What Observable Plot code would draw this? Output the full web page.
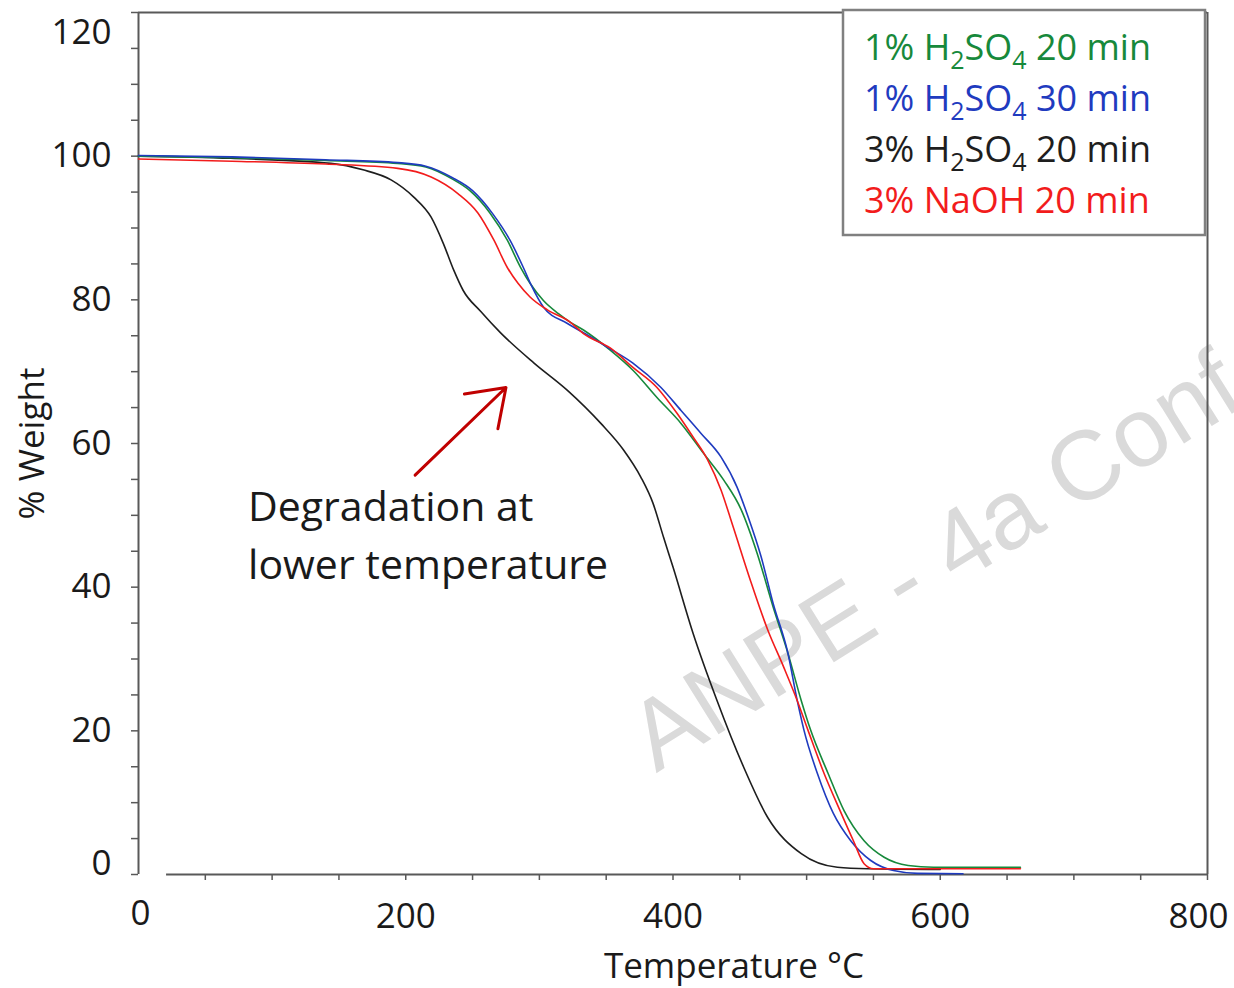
<!DOCTYPE html>
<html>
<head>
<meta charset="utf-8">
<script src="https://cdn.jsdelivr.net/npm/d3@7"></script>
<script src="https://cdn.jsdelivr.net/npm/@observablehq/plot@0.6"></script>
<style>
  html, body { margin: 0; padding: 0; background: #fff; overflow: hidden; }
  #chart { position: relative; width: 1234px; height: 988px; }
</style>
</head>
<body>
<div id="chart"></div>
<script>
// TGA curves: [temperature °C, % weight]
const acid1pct20 = [[0,100],[70,99.8],[140,99.4],[194,99.0],[215,98.5],[235,96.8],[248,95.2],[263,92.1],[276,88.3],[286,84.5],[293,82.3],[303,79.9],[314,78.1],[323,76.9],[333,75.8],[353,73.0],[370,70.2],[388,66.4],[406,62.8],[423,58.6],[438,54.9],[451,50.8],[463,44.7],[475,37.2],[486,30.8],[496,24.2],[503,20.1],[516,14.1],[528,8.9],[543,4.7],[558,2.4],[576,1.25],[595,1.0],[660,1.0]];
const acid1pct30 = [[0,100.1],[70,99.9],[140,99.5],[194,99.1],[215,98.6],[235,97.0],[250,95.2],[265,92.0],[278,88.3],[288,84.5],[294,82.0],[303,79.0],[321,76.7],[335,75.2],[351,73.4],[370,71.2],[391,67.8],[406,64.6],[421,61.4],[436,58.1],[448,53.9],[456,49.9],[466,44.2],[475,37.7],[486,30.8],[493,24.2],[498,20.1],[508,14.1],[520,8.5],[533,4.7],[548,1.95],[565,0.55],[583,0.15],[617,0.1]];
const acid3pct20 = [[0,100],[69,99.7],[144,99.0],[168,98.1],[189,96.7],[206,94.3],[219,91.5],[228,87.9],[236,84.1],[243,81.3],[256,78.4],[271,75.4],[296,71.2],[321,67.4],[346,62.8],[363,59.1],[376,55.3],[385,51.7],[393,46.9],[400,42.8],[415,33.6],[433,24.2],[453,14.9],[471,7.9],[496,2.9],[523,1.0],[546,0.8],[600,0.7]];
const naoh3pct20 = [[0,99.6],[70,99.3],[140,98.9],[194,98.3],[219,97.1],[239,94.8],[254,92.1],[266,88.3],[276,84.5],[284,82.3],[293,80.4],[306,78.6],[323,76.9],[333,75.3],[353,73.3],[370,70.6],[388,67.8],[403,64.2],[415,60.9],[426,57.7],[436,53.5],[445,48.4],[458,40.9],[471,34.0],[483,28.8],[493,24.2],[501,20.1],[513,14.1],[525,8.9],[535,4.7],[543,1.5],[550,0.8],[660,0.8]];

// legend order, drawing order and colours
const seriesKeys = ["1% H2SO4 20 min", "1% H2SO4 30 min", "3% H2SO4 20 min", "3% NaOH 20 min"];
const seriesColors = ["#17893b", "#1f3bbf", "#1e1e1e", "#f21c1c"];
const seriesData = [acid1pct20, acid1pct30, acid3pct20, naoh3pct20];
const drawOrder = ["3% H2SO4 20 min", "1% H2SO4 20 min", "1% H2SO4 30 min", "3% NaOH 20 min"];

// legend entries split into normal and subscript pieces
const legendLines = [
  {color: "#17893b", parts: [["1% H",""],["2","sub"],["SO",""],["4","sub"],[" 20 min",""]]},
  {color: "#1f3bbf", parts: [["1% H",""],["2","sub"],["SO",""],["4","sub"],[" 30 min",""]]},
  {color: "#1e1e1e", parts: [["3% H",""],["2","sub"],["SO",""],["4","sub"],[" 20 min",""]]},
  {color: "#f21c1c", parts: [["3% NaOH 20 min",""]]}
];

// axes
const xDomain = [0, 800];
const yDomain = [0, 120];
const xMinorTicks = d3.range(50, 801, 50);
const yMinorTicks = d3.range(0, 121, 5);
const xLabelsMid = [200, 400, 600];
const xLabelZero = [0];
const xLabelEnd = [800];
const yLabelsMid = [20, 40, 60, 80, 100];
const yLabelZero = [0];
const yLabelTop = [120];
const xAxisStart = 21;   // the bottom axis line starts a little right of the origin
const xTitle = "Temperature °C";
const yTitle = "% Weight";

// annotation
const note = [{x: 82, y: 47.8, text: "Degradation at\nlower temperature"}];
const noteArrow = [{x1: 207, y1: 55.6, x2: 275, y2: 67.8}];
const watermark = [{x: 375, y: 17.8, text: "ANPE - 4a Conf"}];

const rows = [];
seriesKeys.forEach((k, i) => seriesData[i].forEach(([t, w]) => rows.push({series: k, t, w})));
rows.sort((a, b) => drawOrder.indexOf(a.series) - drawOrder.indexOf(b.series));

const frameColor = "#595959";
const font = "'Open Sans', 'Noto Sans', sans-serif";

const plot = Plot.plot({
  width: 1234,
  height: 988,
  marginLeft: 138,
  marginRight: 27,
  marginTop: 12,
  marginBottom: 114,
  x: {domain: xDomain},
  y: {domain: yDomain},
  color: {domain: seriesKeys, range: seriesColors},
  style: {fontFamily: font, background: "#fff", color: "#1a1a1a"},
  marks: [
    Plot.text(watermark, {x: "x", y: "y", text: "text", rotate: -32, textAnchor: "start",
      fontFamily: "'Liberation Sans', Arial, sans-serif", fontSize: 98, fill: "#dadada"}),
    // frame
    Plot.ruleY([yDomain[1]], {stroke: frameColor, strokeWidth: 2}),
    Plot.ruleX([xDomain[1]], {stroke: frameColor, strokeWidth: 2}),
    Plot.ruleX([xDomain[0]], {stroke: frameColor, strokeWidth: 2}),
    Plot.ruleY([yDomain[0]], {x1: xAxisStart, x2: xDomain[1], stroke: frameColor, strokeWidth: 2}),
    // minor ticks
    Plot.axisY({ticks: yMinorTicks, tickSize: 7, tickFormat: () => "", stroke: frameColor, strokeWidth: 1.5, label: null}),
    Plot.axisX({ticks: xMinorTicks, tickSize: 6, tickFormat: () => "", stroke: frameColor, strokeWidth: 1.5, label: null}),
    // tick labels
    Plot.text(yLabelsMid, {y: d => d, frameAnchor: "left", dx: -27, textAnchor: "end", fontSize: 35, fill: "#1a1a1a"}),
    Plot.text(yLabelZero, {y: d => d, frameAnchor: "left", dx: -27, dy: -11, textAnchor: "end", fontSize: 35, fill: "#1a1a1a"}),
    Plot.text(yLabelTop, {y: d => d, frameAnchor: "left", dx: -27, dy: 20, textAnchor: "end", fontSize: 35, fill: "#1a1a1a"}),
    Plot.text(xLabelsMid, {x: d => d, frameAnchor: "bottom", dy: 53, fontSize: 35, fill: "#1a1a1a"}),
    Plot.text(xLabelZero, {x: d => d, frameAnchor: "bottom", dx: 2, dy: 50, fontSize: 35, fill: "#1a1a1a"}),
    Plot.text(xLabelEnd, {x: d => d, frameAnchor: "bottom", dx: -9, dy: 53, fontSize: 35, fill: "#1a1a1a"}),
    // axis titles
    Plot.text([xTitle], {frameAnchor: "bottom", dx: 61, dy: 103, fontSize: 35, fill: "#1a1a1a"}),
    Plot.text([yTitle], {frameAnchor: "left", dx: -106, rotate: -90, textAnchor: "middle", fontSize: 35, fill: "#1a1a1a"}),
    // curves
    Plot.line(rows, {x: "t", y: "w", z: "series", stroke: "series", curve: "monotone-x", strokeWidth: 1.6}),
    // annotation
    Plot.arrow(noteArrow, {x1: "x1", y1: "y1", x2: "x2", y2: "y2", stroke: "#c00000", strokeWidth: 3, headLength: 22, headAngle: 70}),
    Plot.text(note, {x: "x", y: "y", text: "text", textAnchor: "start", lineAnchor: "middle", lineHeight: 1.41, fontSize: 41, fill: "#1a1a1a"})
  ]
});

document.getElementById("chart").appendChild(plot);

// legend box with chemical subscripts
const svg = d3.select(plot);
const lg = svg.append("g").attr("font-family", font).attr("font-size", 36).attr("text-anchor", "start");
lg.append("rect")
  .attr("x", 843).attr("y", 10).attr("width", 362).attr("height", 225)
  .attr("fill", "#fff").attr("stroke", "#808080").attr("stroke-width", 2.5);
legendLines.forEach((line, i) => {
  const t = lg.append("text").attr("x", 864).attr("y", 60 + i * 51).attr("fill", line.color);
  let shifted = false;
  line.parts.forEach(([s, kind]) => {
    const ts = t.append("tspan").text(s);
    if (kind === "sub") { ts.attr("font-size", 25).attr("dy", 9); shifted = true; }
    else if (shifted) { ts.attr("dy", -9); shifted = false; }
  });
});
</script>
</body>
</html>
